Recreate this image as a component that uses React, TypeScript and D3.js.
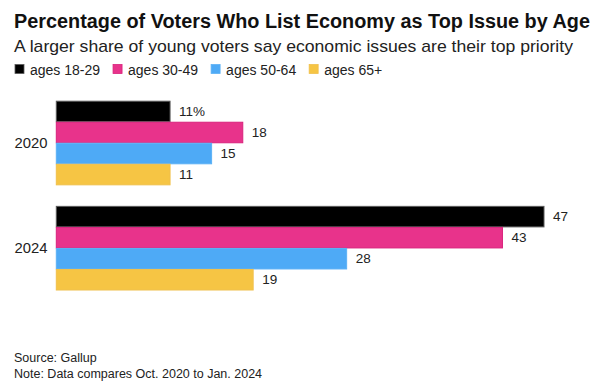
import React from "react";
import * as d3 from "d3";

const years = ["2020", "2024"];
const series = ["ages 18-29", "ages 30-49", "ages 50-64", "ages 65+"];
const values2020 = [11, 18, 15, 11];
const values2024 = [47, 43, 28, 19];
const colors = ["#000000", "#e8338b", "#4eaaf6", "#f6c544"];
const strokes = ["#5a5a5a", "#d9217c", "#5cb1f6", "#f0c04c"];

const title = "Percentage of Voters Who List Economy as Top Issue by Age";
const subtitle = "A larger share of young voters say economic issues are their top priority";
const source = "Source: Gallup";
const note = "Note: Data compares Oct. 2020 to Jan. 2024";

const FONT = "'Liberation Sans', Arial, Helvetica, sans-serif";

function measure(text: string, font: string): number {
  const c = document.createElement("canvas");
  const ctx = c.getContext("2d");
  if (!ctx) return text.length * 7;
  ctx.font = font;
  return ctx.measureText(text).width;
}

export default function App() {
  const W = 600;
  const H = 381;
  const data = [values2020, values2024];

  const x = d3.scaleLinear().domain([0, 47]).range([56.3, 544.5]);
  const y = d3.scaleBand<string>().domain(years).range([100.7, 290]).paddingInner(0.2).paddingOuter(0);
  const yi = d3.scaleBand<string>().domain(series).range([0, y.bandwidth()]).padding(0);

  // legend layout
  const legFont = `14px ${FONT}`;
  let lx = 15;
  const legendItems = series.map((s, i) => {
    const item = { s, i, x: lx };
    lx += 9 + 6 + measure(s, legFont) + 13;
    return item;
  });

  return (
    <svg
      width={W}
      height={H}
      style={{ position: "absolute", left: 0, top: 0, background: "#fff" }}
      fontFamily={FONT}
    >
      <rect width={W} height={H} fill="#fff" />
      <text x={14} y={28} fontSize={19.5} fontWeight="bold" fill="#111" textLength={576} lengthAdjust="spacingAndGlyphs">
        {title}
      </text>
      <text x={14} y={52} fontSize={17} fill="#222" textLength={559} lengthAdjust="spacingAndGlyphs">
        {subtitle}
      </text>
      {legendItems.map((d) => (
        <g key={d.s}>
          <rect x={d.x} y={64.5} width={9} height={9} fill={colors[d.i]} stroke={strokes[d.i]} strokeWidth={0.8} />
          <text x={d.x + 15} y={74.5} fontSize={14} fill="#222">
            {d.s}
          </text>
        </g>
      ))}
      {years.map((yr, gi) => {
        const y0 = y(yr) as number;
        return (
          <g key={yr}>
            <text
              x={47.5}
              y={y0 + y.bandwidth() / 2}
              dy="0.35em"
              textAnchor="end"
              fontSize={14.8}
              fill="#222"
            >
              {yr}
            </text>
            {series.map((s, si) => {
              const v = data[gi][si];
              const by = y0 + (yi(s) as number);
              const bh = yi.bandwidth();
              return (
                <g key={s}>
                  <rect
                    x={x(0)}
                    y={by + 0.5}
                    width={x(v) - x(0) - 0.5}
                    height={bh - 0.5}
                    fill={colors[si]}
                    stroke={strokes[si]}
                    strokeWidth={1}
                  />
                  <text
                    x={x(v) + 8.5}
                    y={by + bh / 2}
                    dy="0.35em"
                    fontSize={13.5}
                    fill="#222"
                  >
                    {gi === 0 && si === 0 ? `${v}%` : `${v}`}
                  </text>
                </g>
              );
            })}
          </g>
        );
      })}
      <text x={14} y={361.5} fontSize={12.5} fill="#222">
        {source}
      </text>
      <text x={14} y={377.5} fontSize={12.5} fill="#222">
        {note}
      </text>
    </svg>
  );
}
